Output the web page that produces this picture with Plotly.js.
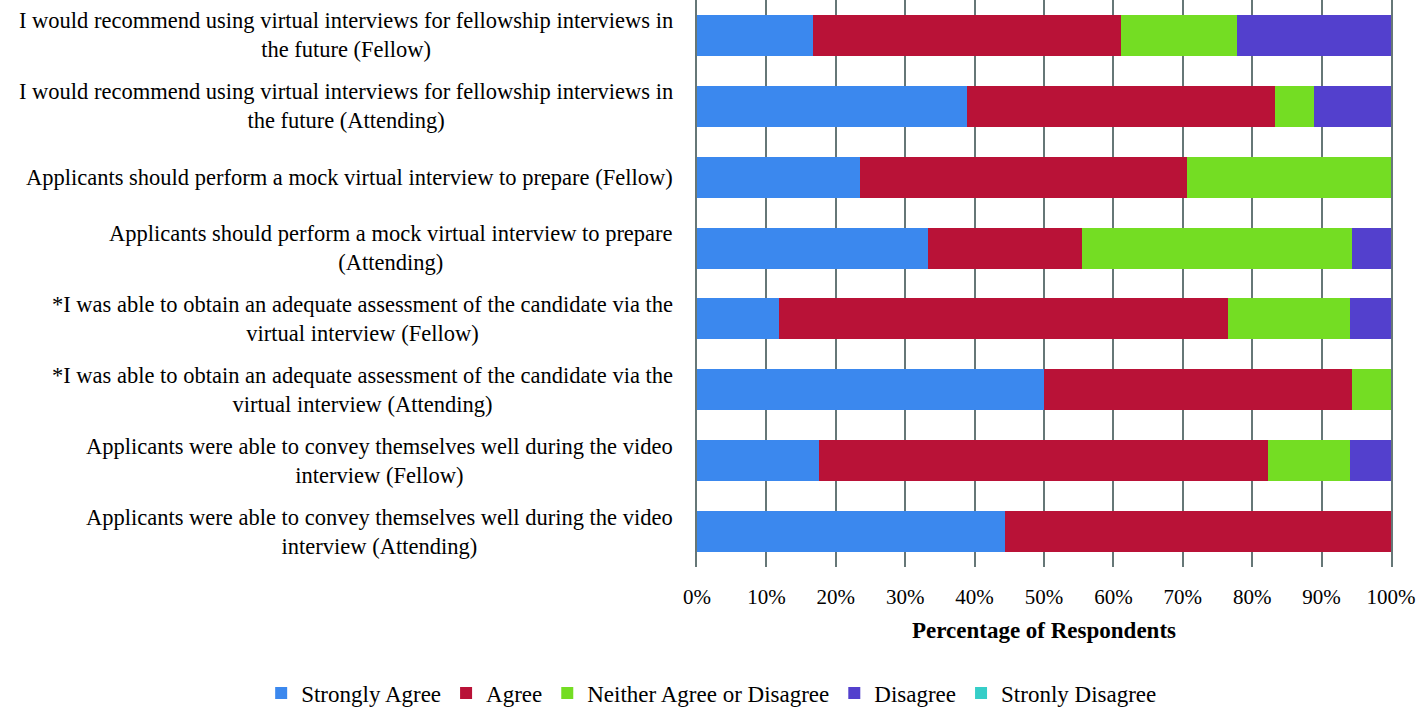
<!DOCTYPE html>
<html>
<head>
<meta charset="utf-8">
<script src="https://cdn.plot.ly/plotly-3.0.1.min.js"></script>
<style>html,body{margin:0;padding:0;background:#fff;}#chart{width:1418px;height:709px;}</style>
</head>
<body>
<div id="chart"></div>
<script>
const categories = [
  "I would recommend using virtual interviews for fellowship interviews in<br>the future (Fellow)",
  "I would recommend using virtual interviews for fellowship interviews in<br>the future (Attending)",
  "Applicants should perform a mock virtual interview to prepare (Fellow)",
  "Applicants should perform a mock virtual interview to prepare<br>(Attending)",
  "*I was able to obtain an adequate assessment of the candidate via the<br>virtual interview (Fellow)",
  "*I was able to obtain an adequate assessment of the candidate via the<br>virtual interview (Attending)",
  "Applicants were able to convey themselves well during the video<br>interview (Fellow)",
  "Applicants were able to convey themselves well during the video<br>interview (Attending)"
];
const seriesNames = ["Strongly Agree", "Agree", "Neither Agree or Disagree", "Disagree", "Stronly Disagree"];
const stronglyAgree    = [16.7, 38.9, 23.5, 33.3, 11.8, 50.0, 17.6, 44.4];
const agree            = [44.4, 44.4, 47.1, 22.2, 64.7, 44.4, 64.7, 55.6];
const neither          = [16.7,  5.6, 29.4, 38.9, 17.6,  5.6, 11.8,  0.0];
const disagree         = [22.2, 11.1,  0.0,  5.6,  5.9,  0.0,  5.9,  0.0];
const stronglyDisagree = [ 0.0,  0.0,  0.0,  0.0,  0.0,  0.0,  0.0,  0.0];
const tickValues = [0, 10, 20, 30, 40, 50, 60, 70, 80, 90, 100];

const colors = ["#3B88EE", "#B91237", "#74DD23", "#5340CD", "#36CEC8"];
const values = [stronglyAgree, agree, neither, disagree, stronglyDisagree];
const FONT = "Liberation Serif, Times New Roman, serif";

const traces = values.map((v, i) => ({
  type: "bar",
  orientation: "h",
  name: seriesNames[i],
  x: v,
  y: categories,
  marker: {color: colors[i], line: {width: 0}},
  hoverinfo: "skip"
}));

const annotations = categories.map(c => ({
  xref: "paper", yref: "y",
  x: 0, y: c,
  xshift: -22,
  xanchor: "right", yanchor: "middle",
  align: "center",
  text: c,
  showarrow: false,
  font: {family: FONT, size: 22.5, color: "#000"}
}));

const layout = {
  width: 1418, height: 709,
  margin: {l: 697, r: 27, t: 0, b: 142, autoexpand: false},
  paper_bgcolor: "#fff", plot_bgcolor: "#fff",
  barmode: "stack",
  bargap: 0.42,
  showlegend: true,
  legend: {
    orientation: "h",
    xref: "paper", yref: "paper",
    x: -0.628, xanchor: "left",
    y: -0.2225, yanchor: "middle",
    font: {family: FONT, size: 23, color: "#000"},
    traceorder: "normal",
    itemwidth: 30
  },
  xaxis: {
    range: [0, 100],
    tickvals: tickValues,
    ticktext: tickValues.map(t => t + "%"),
    showgrid: true,
    gridcolor: "#667777",
    gridwidth: 2,
    zeroline: false,
    showline: false,
    ticks: "",
    ticklabelstandoff: 15,
    tickfont: {family: FONT, size: 21, color: "#000"},
    title: {text: "<b>Percentage of Respondents</b>", font: {family: FONT, size: 23, color: "#000"}, standoff: 13},
    automargin: false,
    fixedrange: true
  },
  yaxis: {
    autorange: "reversed",
    showticklabels: false,
    showgrid: false,
    showline: true,
    linecolor: "#667777",
    linewidth: 2,
    mirror: true,
    ticks: "",
    zeroline: false,
    automargin: false,
    fixedrange: true
  },
  annotations: annotations
};

Plotly.newPlot("chart", traces, layout, {staticPlot: true, displayModeBar: false});
</script>
</body>
</html>
